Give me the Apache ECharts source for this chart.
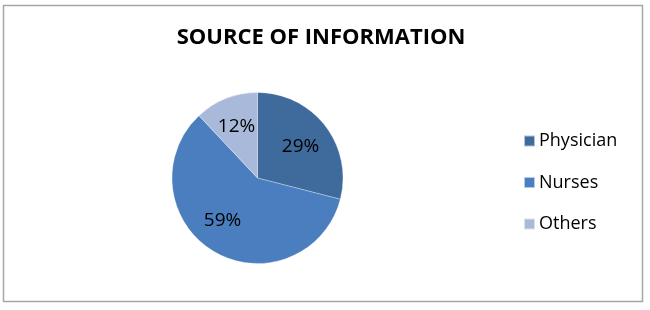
<!DOCTYPE html>
<html><head><meta charset="utf-8">
<script src="https://cdn.jsdelivr.net/npm/echarts@6/dist/echarts.min.js"></script>
<style>html,body{margin:0;padding:0;background:#fff}#c{width:650px;height:310px}</style>
</head><body><div id="c"></div>
<script>
const categories = ['Physician', 'Nurses', 'Others'];
const values = [29, 59, 12];
const colors = ['#3F6A9C', '#4A7EBE', '#A8B9D9'];
const titleText = 'SOURCE OF INFORMATION';

const chart = echarts.init(document.getElementById('c'), null, {renderer: 'canvas'});
const data = categories.map((n, i) => ({name: n, value: values[i], itemStyle: {color: colors[i]}}));
const labelOffsets = [[-2, 3], [-6, -7], [0, 1]];
chart.setOption({
  animation: false,
  title: {text: titleText, left: 321, top: 27, textAlign: 'center', padding: 0,
    textStyle: {fontFamily: 'Open Sans', fontWeight: 'bold', fontSize: 22, color: '#000'}},
  graphic: [{type: 'rect', shape: {x: 3.5, y: 5.5, width: 639, height: 296},
    style: {fill: 'none', stroke: '#a6a6a6', lineWidth: 1.5}, silent: true}],
  legend: {orient: 'vertical', left: 523, top: 131, padding: 0, itemWidth: 11, itemHeight: 11, itemGap: 21.5,
    icon: 'rect', data: categories.map((n, i) => ({name: n, itemStyle: {color: colors[i]}})),
    textStyle: {fontFamily: 'Open Sans', fontSize: 18, lineHeight: 20, color: '#000', padding: [0, 0, 0, -1]}},
  series: [
    {type: 'pie', name: 'src', center: [257.5, 178], radius: [0, 85.5], startAngle: 90, clockwise: true,
      label: {show: false}, labelLine: {show: false}, data: data, silent: true,
      itemStyle: {borderColor: 'rgba(255,255,255,0.6)', borderWidth: 0.5}},
    {type: 'pie', name: 'lbl', center: [257.5, 179], radius: [0, 108], startAngle: 90, clockwise: true,
      itemStyle: {color: 'rgba(0,0,0,0)'}, silent: true, legendHoverLink: false,
      label: {show: true, position: 'inside', formatter: '{c}%', fontFamily: 'Open Sans', fontSize: 19, color: '#000'},
      labelLine: {show: false},
      data: categories.map((n, i) => ({name: n, value: values[i], itemStyle: {color: 'rgba(0,0,0,0)'},
        label: {offset: labelOffsets[i]}}))}
  ]
});
</script></body></html>
